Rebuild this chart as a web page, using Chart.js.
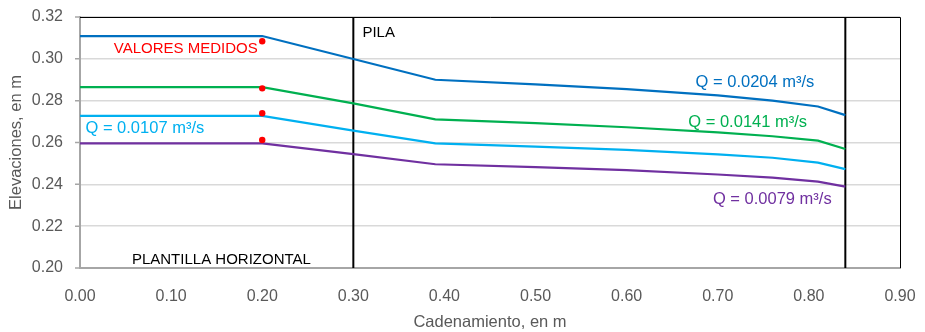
<!DOCTYPE html>
<html><head><meta charset="utf-8">
<script src="https://cdn.jsdelivr.net/npm/chart.js@4.4.1/dist/chart.umd.min.js"></script>
<style>html,body{margin:0;padding:0;background:#fff}#w{width:925px;height:332px}</style>
</head><body><div id="w"><canvas id="c" width="925" height="332"></canvas></div>
<script>
// Data
const xVals = [0.00, 0.20, 0.30, 0.39, 0.50, 0.60, 0.70, 0.76, 0.81, 0.84];
const q0204 = [0.3109, 0.3109, 0.2999, 0.2900, 0.2878, 0.2855, 0.2825, 0.2800, 0.2772, 0.2731];
const q0141 = [0.2865, 0.2865, 0.2787, 0.2711, 0.2693, 0.2673, 0.2648, 0.2630, 0.2609, 0.2569];
const q0107 = [0.2727, 0.2727, 0.2657, 0.2596, 0.2580, 0.2565, 0.2543, 0.2527, 0.2504, 0.2473];
const q0079 = [0.2596, 0.2596, 0.2544, 0.2496, 0.2482, 0.2468, 0.2447, 0.2432, 0.2413, 0.2389];
const measuredX = [0.20, 0.20, 0.20, 0.20];
const measuredY = [0.3084, 0.2859, 0.2740, 0.2612];
const pilaX = [0.30, 0.84];
const yTicks = [0.20, 0.22, 0.24, 0.26, 0.28, 0.30, 0.32];
const xTicks = [0.00, 0.10, 0.20, 0.30, 0.40, 0.50, 0.60, 0.70, 0.80, 0.90];
const seriesNames = ['Q = 0.0204 m³/s', 'Q = 0.0141 m³/s', 'Q = 0.0107 m³/s', 'Q = 0.0079 m³/s'];
const noteTexts = ['VALORES MEDIDOS', 'PILA', 'PLANTILLA HORIZONTAL'];

const colors = ['#0070C0', '#00B050', '#00B0F0', '#7030A0'];
const FONT = "'Liberation Sans', sans-serif";

const toPts = (xs, ys) => xs.map((x, i) => ({x: x, y: ys[i]}));
const series = [q0204, q0141, q0107, q0079];
const datasets = series.map((s, i) => ({
  label: seriesNames[i], data: toPts(xVals, s), borderColor: colors[i], borderWidth: 2.2,
  pointRadius: 0, tension: 0, fill: false, order: 2
}));
pilaX.forEach(px => datasets.push({
  label: 'pila', data: [{x: px, y: 0.20}, {x: px, y: 0.32}], borderColor: '#000', borderWidth: 2,
  pointRadius: 0, fill: false, order: 3
}));
datasets.push({
  label: 'medidos', data: toPts(measuredX, measuredY), showLine: false, order: 0,
  pointRadius: 3.2, pointBackgroundColor: '#FF0000', pointBorderColor: '#FF0000', borderWidth: 0
});

// text annotations: [text, x, y (data units), color, align, size]
const notes = [
  [noteTexts[0], 0.195, 0.3047, '#FF0000', 'right', 15],
  [noteTexts[1], 0.310, 0.3125, '#000000', 'left', 15],
  [noteTexts[2], 0.057, 0.2038, '#000000', 'left', 15],
  [seriesNames[0], 0.8060, 0.2885, colors[0], 'right', 16.5],
  [seriesNames[1], 0.7980, 0.2696, colors[1], 'right', 16.5],
  [seriesNames[2], 0.0060, 0.2666, colors[2], 'left', 16.5],
  [seriesNames[3], 0.8250, 0.2328, colors[3], 'right', 16.5]
];

const notesPlugin = {
  id: 'notes',
  afterDatasetsDraw(chart) {
    const {ctx, chartArea: a, scales: {x, y}} = chart;
    ctx.save();
    ctx.strokeStyle = '#000'; ctx.lineWidth = 1;
    ctx.beginPath();
    ctx.moveTo(a.left, a.top + 0.5); ctx.lineTo(a.right + 0.5, a.top + 0.5); ctx.lineTo(a.right + 0.5, a.bottom);
    ctx.stroke();
    // short outward tick marks on the y axis
    ctx.strokeStyle = '#A6A6A6'; ctx.lineWidth = 1.5;
    ctx.beginPath();
    yTicks.forEach(v => {
      const py = y.getPixelForValue(v);
      ctx.moveTo(a.left - 5, py); ctx.lineTo(a.left, py);
    });
    ctx.stroke();
    ctx.textBaseline = 'middle';
    notes.forEach(n => {
      ctx.font = n[5] + "px " + FONT;
      ctx.fillStyle = n[3];
      ctx.textAlign = n[4];
      ctx.fillText(n[0], x.getPixelForValue(n[1]), y.getPixelForValue(n[2]));
    });
    ctx.restore();
  }
};

new Chart(document.getElementById('c'), {
  type: 'line',
  data: {datasets: datasets},
  options: {
    responsive: false, animation: false,
    layout: {padding: {top: 17, right: 25, left: 0, bottom: 0}},
    plugins: {legend: {display: false}, tooltip: {enabled: false}},
    scales: {
      x: {
        type: 'linear', min: 0, max: 0.9,
        afterBuildTicks: s => { s.ticks = xTicks.map(v => ({value: v})); },
        afterFit: s => { s.height = 64; },
        ticks: {callback: v => v.toFixed(2), color: '#595959', font: {size: 16, family: FONT}, padding: 0, maxRotation: 0},
        grid: {display: false, drawTicks: true, tickLength: 19},
        border: {color: '#A6A6A6', width: 2},
        title: {display: true, text: 'Cadenamiento, en m', color: '#595959', font: {size: 16.5, family: FONT}, padding: {top: 0, bottom: 0}}
      },
      y: {
        type: 'linear', min: 0.20, max: 0.32,
        afterBuildTicks: s => { s.ticks = yTicks.map(v => ({value: v})); },
        afterFit: s => { s.width = 80; },
        ticks: {callback: v => v.toFixed(2), color: '#595959', font: {size: 16, family: FONT}, padding: 0},
        grid: {color: '#D9D9D9', lineWidth: 1.5, tickLength: 17, tickColor: 'rgba(0,0,0,0)'},
        border: {color: '#A6A6A6', width: 2},
        title: {display: true, text: 'Elevaciones, en m', color: '#595959', font: {size: 16.5, family: FONT}, padding: {top: 7, bottom: 0}}
      }
    }
  },
  plugins: [notesPlugin]
});
</script></body></html>
